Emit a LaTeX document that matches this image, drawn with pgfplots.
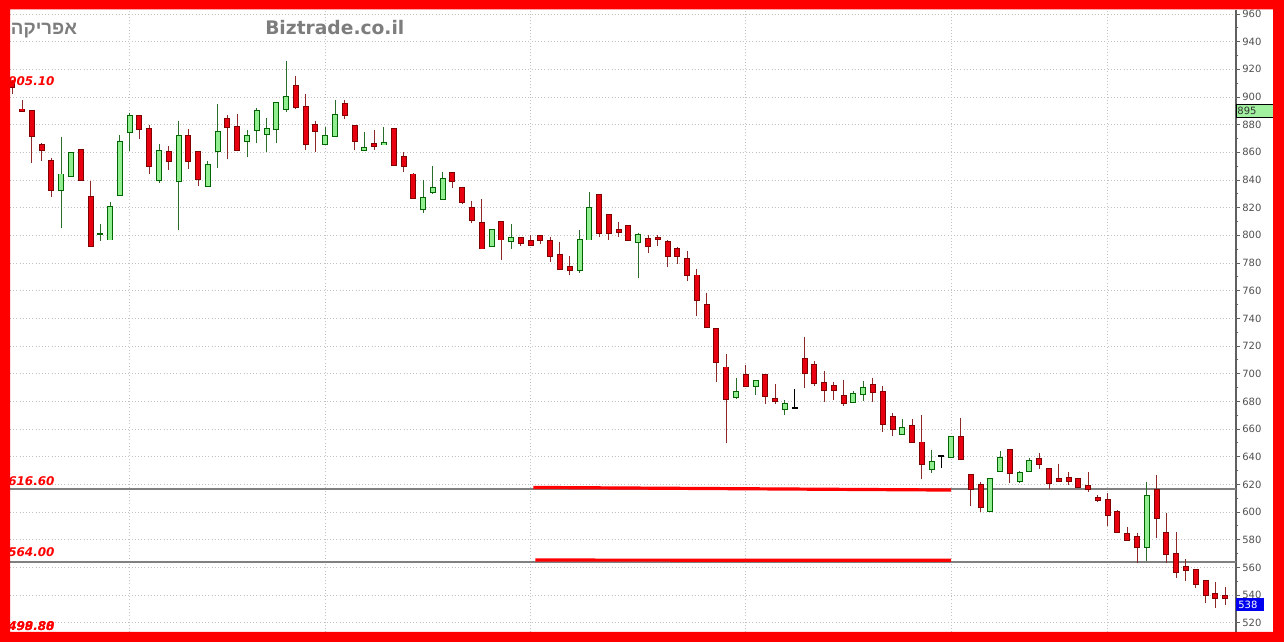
\documentclass[border=0pt]{standalone}
\usepackage{pgfplots}
\pgfplotsset{compat=1.18}
\usepackage{pgfplotstable}
\usepackage{fontspec}
\setmainfont{DejaVu Sans}
\newfontfamily\hebfont[Script=Hebrew, BoldFont={Liberation Sans Bold}]{Liberation Sans}
\TeXXeTstate=1

\definecolor{framered}{RGB}{255,0,0}
\definecolor{candlered}{RGB}{232,0,16}
\definecolor{candleredline}{RGB}{128,0,0}
\definecolor{redwick}{RGB}{140,40,40}
\definecolor{candlegreen}{RGB}{144,238,144}
\definecolor{candlegreenline}{RGB}{0,100,0}
\definecolor{greenwick}{RGB}{40,110,40}
\definecolor{gridgray}{RGB}{195,195,195}
\definecolor{levelgray}{RGB}{128,128,128}
\definecolor{spine}{RGB}{96,96,96}
\definecolor{tickgray}{RGB}{80,80,80}
\definecolor{titlegray}{RGB}{125,125,125}
\definecolor{boxgreen}{RGB}{160,240,160}
\definecolor{boxblue}{RGB}{0,0,240}

% daily candles: index, open, high, low, close
\pgfplotstableread{
i O H L C
0 911 912 902 907
1 891 898 890 890
2 890 890 852 872
3 865 867 854 862
4 854 856 828 833
7 862 862.5 840 840
8 828 839 792 792
13 886 886.5 870 877
14 877 880 844 850
16 860 864.6 847.5 853.5
18 872 877 848 854
19 860 861 836 841
22 884 887 855 878
23 878.5 888 862 862
29 908 915 891 893
30 893 902 862 866
31 880 883 860 875.6
34 895 898 884 887
35 879 879.5 862 868
37 866 876 862 864.5
39 877 877 851 851
40 856.5 860 845.6 850
41 844 845 826 827
45 845 845.5 834.5 839
46 834 834.5 822.5 824
47 820 825 809 811
48 809 826.6 790 790.5
50 810 810.5 782.4 797
52 798 798.5 792 794.4
53 796 800 792 792.7
54 799.6 800 794 796.5
55 796 799 781 785
56 785.5 795 775.8 776
57 777.4 785 771 775
60 829 829.5 799 802
61 815 815.5 797 802
62 804 810 799 802.2
63 806.6 807 796 796.4
65 797.6 800 787 792.6
66 798.3 800 792.3 797.6
67 795 797 777 785.3
68 790 791.6 779.6 785
69 783 788.5 767 771
70 771 776 742 753
71 750 758.6 733 734
72 732.4 733 694 708.3
73 704.5 714.6 649.6 682
75 699 706.6 690.5 691
77 699.3 699.5 678 684
78 682 692.3 677.8 680.4
81 710.4 726.8 689.4 700.2
82 706 709.4 690.8 693
83 693.5 702 679.7 688.2
84 691.3 694 681 688.2
85 683.6 695.4 677 678.5
88 691.8 697 679.7 687
89 687 691 658 663.6
90 668.6 671.7 655 659.7
92 662.3 667 650 650.8
93 650.3 670 624 634.6
97 654.5 667.7 638 638.3
98 626.7 627.5 604.6 616.4
99 619.5 622 600 604
102 645 645.5 620.7 628
105 638.3 643 630.8 634.7
106 630.8 631 616.4 620.7
107 624 634.7 622.5 622.7
108 624.6 629 619.5 622.2
109 624 624.5 618 618.3
110 618.8 629 614.7 616.4
111 610 612.3 607.5 608.7
112 608.4 613.5 590 597.6
113 600 601.4 585 585.8
114 584.3 589.4 579.5 579.8
115 581.7 584.6 563.4 574.5
117 616 627 581 595.4
118 584.6 599.5 563.4 569.6
119 570 585.3 552.5 557
120 560 565.8 550.4 558
121 558 558.5 544.8 548
122 550.4 551 534.5 540
123 540.5 549.4 530.4 538
124 539.5 546 532.8 537.6
}\redc

\pgfplotstableread{
i O H L C
5 833 871 805 844
6 843 860 843 859.5
9 801 808 796 801
10 797 824 797 820.5
11 829 872.5 829 867.5
12 874.5 888.4 861 886
15 840 866 838 861
17 839 883 804 872
20 836 854 836 851
21 861 894.6 848.7 875
24 868.5 876.5 857 872
25 876 892 867 890
26 873 885 860 877
27 877 896.5 867 896
28 891 926 889 900
32 866 878.5 865.5 872
33 872 898 871.5 887
36 862 875 862 863
38 866 878 866 866.5
42 819 840 816 827
43 831 850 830 834.5
44 826 846 826 841
49 792 804.5 792 804
51 796 808 790 798
58 775 804 773 797
59 797 831 796.8 820
64 795.5 802 769.5 800
74 683 697 682 687
76 691 695 684.5 694.6
79 674.2 681 670.5 677.8
86 679.7 687.7 679.5 685.5
87 685.5 695 680 689.8
91 656.6 667.6 656 661
94 631 645 628 636.3
96 640 655 640 654.4
100 601 624.3 600.5 623.6
101 630 644.3 629.5 638.8
103 622.7 629.6 620.7 628
104 630 639 630 637
116 574.5 622 564.6 611.8
}\greenc

\pgfplotstableread{
i O H L C
80 675 688.6 674.9 675
95 640.4 641 632.2 640.4
}\blackc

\pgfplotsset{
  candle/.style 2 args={draw=none, mark=none, forget plot,
    error bars/.cd, y dir=both, y explicit, error mark=none,
    error bar style={draw=#1, line width=#2, solid}},
}

\begin{document}
\begin{tikzpicture}
\useasboundingbox (0,0) rectangle (963pt,481.5pt);
\fill[white] (0,0) rectangle (963pt,481.5pt);
\begin{axis}[
  at={(7.5pt,7.5pt)}, anchor=south west,
  scale only axis, width=919.5pt, height=466.5pt,
  xmin=-0.235, xmax=125.12, ymin=513.3, ymax=962.9,
  clip=false,
  axis y line*=right, axis x line*=bottom,
  x axis line style={draw=none},
  y axis line style={-, draw=spine, line width=1.1pt},
  xtick={12,32,53,75,96,112}, xticklabels={}, xtick style={draw=none},
  ytick={520,540,...,960}, minor y tick num=1,
  xmajorgrids, ymajorgrids,
  grid style={dotted, gridgray, line width=0.55pt},
  tick align=outside, major tick length=3pt, minor tick length=1.8pt,
  ytick style={draw=spine, line width=0.6pt},
  yticklabel style={font=\fontsize{7.5}{9}\selectfont, text=tickgray, inner sep=1.5pt},
  /pgf/number format/assume math mode=true,
]
% support / resistance levels
\addplot[levelgray, line width=1.1pt] coordinates {(-0.235,616.6) (125.12,616.6)};
\addplot[levelgray, line width=1.1pt] coordinates {(-0.235,564) (125.12,564)};
\addplot[framered, line width=2.4pt] coordinates {(53.27,617.8) (96.0,615.9)};
\addplot[framered, line width=2.4pt] coordinates {(53.47,565.3) (96.0,565.1)};

% wicks
\addplot[candle={redwick}{0.75pt}] table[x=i, y expr={(\thisrow{H}+\thisrow{L})/2}, y error expr={(\thisrow{H}-\thisrow{L})/2}] {\redc};
\addplot[candle={greenwick}{0.75pt}] table[x=i, y expr={(\thisrow{H}+\thisrow{L})/2}, y error expr={(\thisrow{H}-\thisrow{L})/2}] {\greenc};
\addplot[candle={black}{0.75pt}] table[x=i, y expr={(\thisrow{H}+\thisrow{L})/2}, y error expr={(\thisrow{H}-\thisrow{L})/2}] {\blackc};

% bodies: outline then fill
\addplot[candle={candleredline}{4.5pt}] table[x=i, y expr={(\thisrow{O}+\thisrow{C})/2}, y error expr={abs(\thisrow{O}-\thisrow{C})/2+0.7}] {\redc};
\addplot[candle={candlered}{3pt}] table[x=i, y expr={(\thisrow{O}+\thisrow{C})/2}, y error expr={abs(\thisrow{O}-\thisrow{C})/2}] {\redc};
\addplot[candle={candlegreenline}{4.5pt}] table[x=i, y expr={(\thisrow{O}+\thisrow{C})/2}, y error expr={abs(\thisrow{O}-\thisrow{C})/2+0.7}] {\greenc};
\addplot[candle={candlegreen}{3pt}] table[x=i, y expr={(\thisrow{O}+\thisrow{C})/2}, y error expr={abs(\thisrow{O}-\thisrow{C})/2}] {\greenc};
\addplot[candle={black}{4.5pt}] table[x=i, y expr={(\thisrow{O}+\thisrow{C})/2}, y error expr={abs(\thisrow{O}-\thisrow{C})/2+0.7}] {\blackc};

% level labels
\begin{scope}[every node/.style={anchor=base west, inner sep=0pt, text=framered, font=\fontsize{9}{10}\selectfont\bfseries\itshape}]
\node at (axis cs:-0.44,905.1) [yshift=3pt] {905.10};
\node at (axis cs:-0.44,616.6) [yshift=3pt] {616.60};
\node at (axis cs:-0.44,564) [yshift=3.7pt] {564.00};
\node at (axis cs:-0.44,514.2) {499.80};
\node at (axis cs:-0.44,514.2) {498.88};
\end{scope}

% last price boxes
\node[anchor=north west, fill=boxgreen, draw=black, line width=0.6pt, inner xsep=0.75pt, inner ysep=0pt,
  text width=26.25pt, minimum height=9.75pt, align=left, text=black!80,
  font=\fontsize{7.5}{9}\selectfont] at (axis cs:125.12,895) {895};
\node[anchor=north west, fill=boxblue, inner xsep=1.5pt, inner ysep=0pt,
  text width=18pt, minimum height=9.75pt, align=left, text=white,
  font=\fontsize{7.5}{9}\selectfont] at (axis cs:125.12,538) {538};
\end{axis}

\node[anchor=base west, inner sep=0pt, text=titlegray, font=\fontsize{14}{16}\selectfont\bfseries] at (198.75pt,455.25pt) {Biztrade.co.il};
\node[anchor=base east, inner sep=0pt, text=titlegray, font=\fontsize{14}{16}\selectfont] at (58pt,455.25pt) {\hebfont\bfseries\beginR אפריקה\endR};

\fill[framered, even odd rule] (0,0) rectangle (963pt,481.5pt) (7.5pt,7.5pt) rectangle (954.75pt,474.5pt);
\end{tikzpicture}
\end{document}
